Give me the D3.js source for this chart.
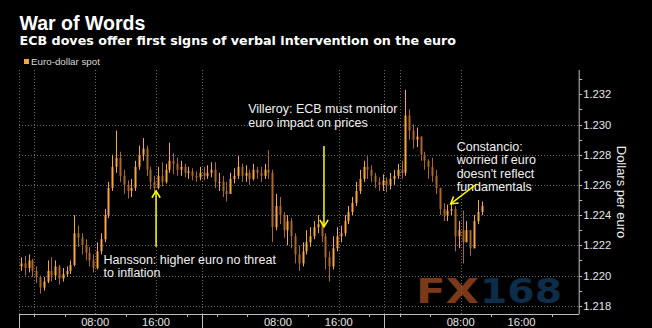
<!DOCTYPE html>
<html><head><meta charset="utf-8">
<script src="https://cdn.jsdelivr.net/npm/d3@7"></script>
<style>html,body{margin:0;padding:0;background:#000;overflow:hidden}</style>
</head><body><svg id="c" width="652" height="328"></svg>
<script>
const title = "War of Words";
const subtitle = "ECB doves offer first signs of verbal intervention on the euro";
const legendLabel = "Euro-dollar spot";
const yAxisTitle = "Dollars per euro";
const watermarkA = "FX", watermarkB = "168";

// 30-minute bars, first bar starts at 22:00 the evening before day 1 (hour -2)
const firstBarHour = -2, barHours = 0.5;
const openFirst = 1.2206;
const closes = [
1.2208,1.2205,1.2210,1.2203,1.2199,1.2192,1.2196,1.2203,1.2200,1.2206,
1.2198,1.2201,1.2203,1.2207,1.2228,1.2225,1.2220,1.2215,1.2210,1.2205,
1.2216,1.2224,1.2240,1.2258,1.2272,1.2278,1.2266,1.2260,1.2256,1.2258,
1.2272,1.2280,1.2284,1.2270,1.2262,1.2258,1.2266,1.2262,1.2270,1.2276,
1.2274,1.2270,1.2272,1.2268,1.2269,1.2266,1.2265,1.2268,1.2266,1.2268,
1.2270,1.2262,1.2262,1.2256,1.2254,1.2264,1.2266,1.2272,1.2266,1.2268,
1.2264,1.2270,1.2268,1.2266,1.2270,1.2268,1.2232,1.2246,1.2240,1.2230,
1.2236,1.2226,1.2214,1.2208,1.2216,1.2222,1.2226,1.2232,1.2234,1.2226,
1.2212,1.2206,1.2218,1.2226,1.2228,1.2236,1.2242,1.2248,1.2256,1.2264,
1.2272,1.2270,1.2266,1.2262,1.2260,1.2263,1.2260,1.2264,1.2266,1.2270,
1.2268,1.2306,1.2296,1.2290,1.2292,1.2280,1.2276,1.2272,1.2266,1.2258,
1.2244,1.2240,1.2243,1.2244,1.2226,1.2230,1.2222,1.2230,1.2218,1.2236,
1.2242,1.2246];
const highs = [
1.2212,1.2213,1.2214,1.2211,1.2206,1.2200,1.2199,1.2210,1.2212,1.2210,
1.2207,1.2205,1.2206,1.2210,1.2240,1.2233,1.2228,1.2224,1.2219,1.2214,
1.2222,1.2228,1.2244,1.2262,1.2280,1.2296,1.2282,1.2270,1.2263,1.2264,
1.2276,1.2286,1.2291,1.2286,1.2272,1.2266,1.2272,1.2275,1.2274,1.2288,
1.2281,1.2278,1.2276,1.2274,1.2272,1.2271,1.2269,1.2272,1.2272,1.2273,
1.2275,1.2275,1.2268,1.2266,1.2262,1.2268,1.2271,1.2279,1.2274,1.2273,
1.2270,1.2274,1.2272,1.2272,1.2274,1.2283,1.2270,1.2254,1.2252,1.2242,
1.2240,1.2238,1.2228,1.2220,1.2222,1.2230,1.2232,1.2236,1.2240,1.2236,
1.2228,1.2216,1.2226,1.2232,1.2233,1.2240,1.2246,1.2252,1.2262,1.2270,
1.2276,1.2279,1.2273,1.2268,1.2265,1.2267,1.2265,1.2268,1.2270,1.2274,
1.2276,1.2323,1.2310,1.2300,1.2298,1.2290,1.2282,1.2277,1.2278,1.2270,
1.2256,1.2248,1.2247,1.2249,1.2246,1.2236,1.2243,1.2236,1.2230,1.2240,
1.2250,1.2249];
const lows = [
1.2203,1.2200,1.2202,1.2199,1.2195,1.2188,1.2190,1.2195,1.2196,1.2197,
1.2194,1.2196,1.2199,1.2201,1.2206,1.2219,1.2214,1.2210,1.2206,1.2202,
1.2204,1.2214,1.2222,1.2238,1.2256,1.2268,1.2262,1.2254,1.2251,1.2252,
1.2256,1.2270,1.2276,1.2266,1.2257,1.2255,1.2257,1.2259,1.2261,1.2268,
1.2267,1.2266,1.2266,1.2265,1.2264,1.2263,1.2262,1.2263,1.2263,1.2264,
1.2265,1.2258,1.2256,1.2252,1.2249,1.2254,1.2261,1.2264,1.2262,1.2262,
1.2260,1.2263,1.2264,1.2262,1.2264,1.2264,1.2222,1.2230,1.2234,1.2225,
1.2220,1.2218,1.2208,1.2203,1.2206,1.2214,1.2219,1.2224,1.2228,1.2222,
1.2204,1.2196,1.2204,1.2216,1.2222,1.2226,1.2234,1.2240,1.2246,1.2254,
1.2262,1.2264,1.2262,1.2258,1.2256,1.2256,1.2255,1.2257,1.2260,1.2264,
1.2264,1.2266,1.2290,1.2284,1.2285,1.2276,1.2270,1.2264,1.2262,1.2254,
1.2240,1.2236,1.2236,1.2240,1.2216,1.2218,1.2208,1.2222,1.2213,1.2220,
1.2234,1.2240];

const xTickHours = [8,16,32,40,56,64];
const xTickLabels = ["08:00","16:00","08:00","16:00","08:00","16:00"];
const xMinorHours = [4,12,20,28,36,44,52,60,68];
const xGridHours = [0,8,16,40,48,56];
const sessionBreakHours = [22,46];
const yTicks = [1.218,1.220,1.222,1.224,1.226,1.228,1.230,1.232];
const yMinorTicks = [1.219,1.221,1.223,1.225,1.227,1.229,1.231,1.233];
const yGridTicks = [1.218,1.220,1.222,1.224,1.226,1.228,1.230];

const annotations = [
  {lines:["Hansson: higher euro no threat","to inflation"], textHour:9.1, textPrice:1.22078, tail:[16,1.22190], tip:[16,1.22560]},
  {lines:["Villeroy: ECB must monitor","euro impact on prices"], textHour:28.1, textPrice:1.23074, tail:[38.05,1.22858], tip:[38.05,1.22323]},
  {lines:["Constancio:","worried if euro","doesn't reflect","fundamentals"], textHour:55.48, textPrice:1.22824, tail:[58.1,1.22606], tip:[54.69,1.22474]}
];

const svg = d3.select("#c");
svg.append("rect").attr("width",652).attr("height",328).attr("fill","#000");

const x = d3.scaleLinear().domain([-2, 71.57]).range([19, 579.2]);
const y = d3.scaleLinear().domain([1.218, 1.232]).range([305.7, 94.3]);
const plotTop = 70, plotBottom = 314, plotLeft = 19, plotRight = 579.2;
const FONT = "'Liberation Sans', Arial, sans-serif";

function fit(sel, w){ const n = sel.node(); const cur = parseFloat(sel.attr("font-size")); const l = n.getComputedTextLength(); sel.attr("font-size", (cur*w/l).toFixed(2)); }

// Titles
const t1 = svg.append("text").attr("x",19.5).attr("y",30).attr("fill","#fff").attr("font-family",FONT)
  .attr("font-weight","bold").attr("font-size",19).text(title);
fit(t1,126);
const t2 = svg.append("text").attr("x",19.5).attr("y",45).attr("fill","#fff").attr("font-family","'DejaVu Sans', sans-serif")
  .attr("font-weight","bold").attr("font-size",12).text(subtitle);
fit(t2,437);
// Legend
svg.append("rect").attr("x",24).attr("y",59).attr("width",5).attr("height",5).attr("fill","#f7a53c");
const lg = svg.append("text").attr("x",31).attr("y",64.5).attr("fill","#d8d8d8").attr("font-family",FONT)
  .attr("font-size",10).text(legendLabel);
fit(lg,69);

// Watermark
svg.append("text").attr("x",416).attr("y",303.3).attr("fill","#7b3919")
  .attr("font-family","'DejaVu Sans', sans-serif").attr("font-weight","bold").attr("font-size",34)
  .attr("textLength",63).attr("lengthAdjust","spacingAndGlyphs").text(watermarkA);
svg.append("text").attr("x",480).attr("y",303.3).attr("fill","#0d2d4a")
  .attr("font-family","'DejaVu Sans', sans-serif").attr("font-weight","bold").attr("font-size",34)
  .attr("textLength",82).attr("lengthAdjust","spacingAndGlyphs").text(watermarkB);

// Grid
const grid = svg.append("g").attr("stroke","#6a6a6a").attr("stroke-width",1).attr("stroke-dasharray","1,2");
grid.selectAll("line.h").data(yGridTicks).join("line").attr("class","h")
  .attr("x1",plotLeft).attr("x2",plotRight).attr("y1",d=>Math.round(y(d))+0.5).attr("y2",d=>Math.round(y(d))+0.5);
grid.selectAll("line.v").data(xGridHours.concat(sessionBreakHours)).join("line").attr("class","v")
  .attr("x1",d=>Math.round(x(d))+0.5).attr("x2",d=>Math.round(x(d))+0.5).attr("y1",plotTop).attr("y2",plotBottom);
grid.append("line").attr("x1",plotLeft+0.5).attr("x2",plotLeft+0.5).attr("y1",plotTop).attr("y2",plotBottom);

// Candles
const bars = closes.map((c,i)=>({t: firstBarHour + barHours*i + barHours/2, o: i===0?openFirst:closes[i-1], c, h: highs[i], l: lows[i]}));
const UP = "#f7a53c", DOWN = "#a8682a";
const cg = svg.append("g");
cg.selectAll("line").data(bars).join("line")
  .attr("x1",d=>Math.round(x(d.t))+0.5).attr("x2",d=>Math.round(x(d.t))+0.5)
  .attr("y1",d=>y(Math.max(d.h,d.o,d.c))).attr("y2",d=>y(Math.min(d.l,d.o,d.c)))
  .attr("stroke",d=>d.c>=d.o?UP:DOWN).attr("stroke-width",1);
cg.selectAll("rect").data(bars).join("rect")
  .attr("x",d=>Math.round(x(d.t))-0.5).attr("width",2)
  .attr("y",d=>y(Math.max(d.o,d.c))).attr("height",d=>Math.max(1,y(Math.min(d.o,d.c))-y(Math.max(d.o,d.c))))
  .attr("fill",d=>d.c>=d.o?UP:DOWN);

// Right axis
const ax = svg.append("g").attr("stroke","#bdbdbd").attr("stroke-width",1);
ax.append("line").attr("x1",plotRight).attr("x2",plotRight).attr("y1",plotTop).attr("y2",plotBottom);
ax.selectAll("line.mj").data(yTicks.concat(yMinorTicks)).join("line").attr("class","mj")
  .attr("x1",plotRight).attr("x2",plotRight+3).attr("y1",d=>Math.round(y(d))+0.5).attr("y2",d=>Math.round(y(d))+0.5);
svg.append("g").selectAll("text").data(yTicks).join("text")
  .attr("x",plotRight+4).attr("y",d=>y(d)).attr("dy","0.36em").attr("fill","#e6e6e6")
  .attr("font-family",FONT).attr("font-size",11.2).text(d=>d.toFixed(3));
svg.append("text").attr("transform","translate(616.5,192) rotate(90)").attr("text-anchor","middle")
  .attr("fill","#f0f0f0").attr("font-family",FONT).attr("font-size",13).text(yAxisTitle);

// Bottom axis
ax.append("line").attr("x1",plotLeft).attr("x2",plotRight).attr("y1",plotBottom+0.5).attr("y2",plotBottom+0.5);
ax.selectAll("line.sep").data([-2].concat(sessionBreakHours)).join("line").attr("class","sep")
  .attr("x1",d=>Math.round(x(d))+0.5).attr("x2",d=>Math.round(x(d))+0.5).attr("y1",plotBottom).attr("y2",328);
ax.selectAll("line.mn").data(xMinorHours.concat([0,24,48])).join("line").attr("class","mn")
  .attr("x1",d=>Math.round(x(d))+0.5).attr("x2",d=>Math.round(x(d))+0.5).attr("y1",plotBottom).attr("y2",plotBottom+3);
svg.append("g").selectAll("text").data(xTickHours).join("text")
  .attr("x",d=>x(d)).attr("y",325.5).attr("text-anchor","middle").attr("fill","#e6e6e6")
  .attr("font-family",FONT).attr("font-size",11.2).text((d,i)=>xTickLabels[i]);

// Annotations
const YEL = "#ffff00";
const ag = svg.append("g");
annotations.forEach(a=>{
  a.lines.forEach((s,i)=>{
    ag.append("text").attr("x",x(a.textHour)).attr("y",y(a.textPrice)+i*13.4).attr("fill","#f0f0f0")
      .attr("font-family",FONT).attr("font-size",12.5).text(s);
  });
  const x1=x(a.tail[0]), y1=y(a.tail[1]), x2=x(a.tip[0]), y2=y(a.tip[1]);
  ag.append("line").attr("x1",x1).attr("y1",y1).attr("x2",x2).attr("y2",y2).attr("stroke",YEL).attr("stroke-width",1.5);
  const ang = Math.atan2(y2-y1,x2-x1), L=8, sp=0.55;
  const p = d3.path();
  p.moveTo(x2-L*Math.cos(ang-sp), y2-L*Math.sin(ang-sp));
  p.lineTo(x2,y2);
  p.lineTo(x2-L*Math.cos(ang+sp), y2-L*Math.sin(ang+sp));
  ag.append("path").attr("d",p.toString()).attr("fill","none").attr("stroke",YEL).attr("stroke-width",1.5);
});
</script></body></html>
